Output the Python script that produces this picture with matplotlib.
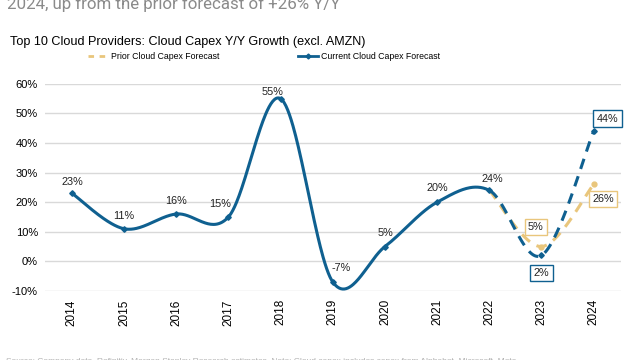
import numpy as np
import matplotlib.pyplot as plt
from matplotlib.lines import Line2D

plt.rcParams['font.family'] = ['Liberation Sans', 'DejaVu Sans']

years = [2014, 2015, 2016, 2017, 2018, 2019, 2020, 2021, 2022, 2023, 2024]
current = [23, 11, 16, 15, 55, -7, 5, 20, 24, 2, 44]
prior_years = [2022, 2023, 2024]
prior = [24, 5, 26]

blue = '#0F6090'
gold = '#E9C67C'


def smooth(xs, ys, n=60):
    # catmull-rom, like excel's smoothed line
    xs = np.asarray(xs, float)
    ys = np.asarray(ys, float)
    px = np.concatenate([[xs[0]], xs, [xs[-1]]])
    py = np.concatenate([[ys[0]], ys, [ys[-1]]])
    outx, outy = [], []
    for i in range(1, len(px) - 2):
        t = np.linspace(0, 1, n)
        mx0 = (px[i + 1] - px[i - 1]) / 2
        mx1 = (px[i + 2] - px[i]) / 2
        my0 = (py[i + 1] - py[i - 1]) / 2
        my1 = (py[i + 2] - py[i]) / 2
        h00 = 2 * t**3 - 3 * t**2 + 1
        h10 = t**3 - 2 * t**2 + t
        h01 = -2 * t**3 + 3 * t**2
        h11 = t**3 - t**2
        outx.append(h00 * px[i] + h10 * mx0 + h01 * px[i + 1] + h11 * mx1)
        outy.append(h00 * py[i] + h10 * my0 + h01 * py[i + 1] + h11 * my1)
    return np.concatenate(outx), np.concatenate(outy)


fig = plt.figure(figsize=(6.4, 3.6), dpi=100)
ax = fig.add_axes([0.07, 0.192, 0.9, 0.575])

cx, cy = smooth(years, current)
solid = cx <= 2022
ax.plot(cx[solid], cy[solid], color=blue, lw=2.2, solid_capstyle='round', zorder=3)
ax.plot(cx[cx >= 2022], cy[cx >= 2022], color=blue, lw=2.2, ls=(0, (3.5, 2.5)), zorder=3)
ax.plot(years, current, ls='none', marker='D', ms=2.8, color=blue, zorder=4)

pxs, pys = smooth(prior_years, prior)
ax.plot(pxs, pys, color=gold, lw=2.2, ls=(0, (3.5, 2.5)), zorder=2)
ax.plot(prior_years[1:], prior[1:], ls='none', marker='o', ms=3.5, color=gold, zorder=2)

# plain labels, offsets in points
offs = {2014: (0, 8), 2015: (0, 9), 2016: (0, 9), 2017: (-6, 9), 2018: (-6, 5),
        2019: (6, 10), 2020: (0, 10), 2021: (0, 10), 2022: (2, 8)}
for x, v in zip(years, current):
    if x in offs:
        ax.annotate(f'{v}%', (x, v), xytext=offs[x], textcoords='offset points',
                    ha='center', va='center', fontsize=7.8, color='#222222')

box_lbls = [(2023, 2, (0, -12.5), blue), (2024, 44, (10, 9), blue),
            (2023, 5, (-4, 14), gold), (2024, 26, (7, -10.5), gold)]
for x, v, off, c in box_lbls:
    ax.annotate(f'{v}%', (x, v), xytext=off, textcoords='offset points',
                ha='center', va='center', fontsize=7.8, color='#222222',
                bbox=dict(boxstyle='square,pad=0.3', fc='white', ec=c, lw=1))

ax.set_xlim(2013.48, 2024.52)
ax.set_ylim(-10, 60)
ax.set_yticks(range(-10, 61, 10))
ax.set_yticklabels([f'{t}%' for t in range(-10, 61, 10)], fontsize=8)
ax.set_xticks(years)
ax.set_xticklabels([str(y) for y in years], rotation=90, fontsize=8.5)
ax.grid(axis='y', color='#D9D9D9', lw=1)
ax.set_axisbelow(True)
for s in ax.spines.values():
    s.set_visible(False)
ax.tick_params(length=0, pad=5)
ax.tick_params(axis='x', pad=6)

handles = [Line2D([], [], color=gold, lw=2, ls=(0, (2, 2))),
           Line2D([], [], color=blue, lw=2, marker='D', ms=2.5)]
fig.legend(handles, ['Prior Cloud Capex Forecast', 'Current Cloud Capex Forecast'],
           loc='center', bbox_to_anchor=(0.4125, 0.842), ncol=2, frameon=False,
           fontsize=6.3, columnspacing=9.0, handlelength=2.3, handletextpad=0.35)

fig.text(0.016, 0.876, 'Top 10 Cloud Providers: Cloud Capex Y/Y Growth (excl. AMZN)',
         fontsize=9.1, color='black', va='baseline')
fig.text(0.011, 0.975, '2024, up from the prior forecast of +26% Y/Y',
         fontsize=12.2, color='#8A8A8A', va='baseline', family=['Roboto', 'DejaVu Sans'])
fig.text(0.01, -0.004, 'Source: Company data, Refinitiv, Morgan Stanley Research estimates. '
         'Note: Cloud capex includes capex from Alphabet, Microsoft, Meta',
         fontsize=6, color='#B0B0B0', va='center')

fig.savefig('out.png', dpi=100)
